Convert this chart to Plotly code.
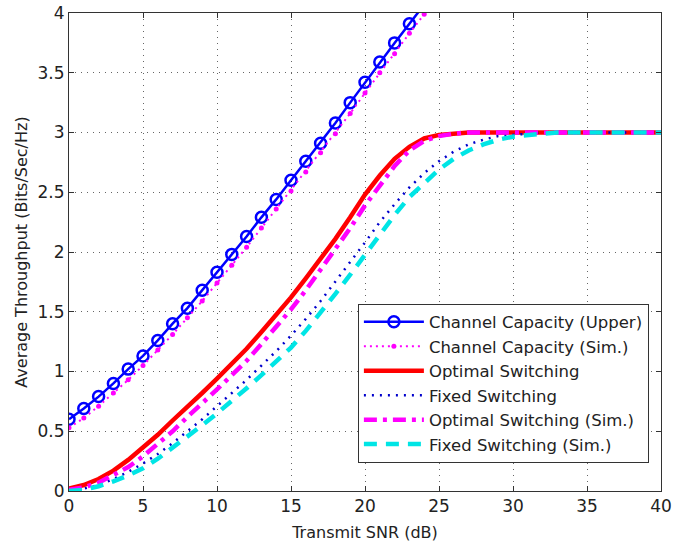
import plotly.graph_objects as go

snr_cap = list(range(0, 25))
cap_upper = [0.60, 0.69, 0.79, 0.90, 1.02, 1.13, 1.26, 1.40, 1.53, 1.68, 1.83, 1.98, 2.13,
             2.29, 2.44, 2.60, 2.76, 2.91, 3.08, 3.25, 3.42, 3.59, 3.75, 3.91, 4.07]
snr_cap_sim = list(range(0, 26))
cap_sim = [0.53, 0.61, 0.71, 0.82, 0.93, 1.05, 1.18, 1.31, 1.45, 1.59, 1.74, 1.89, 2.04,
           2.20, 2.36, 2.51, 2.67, 2.83, 2.99, 3.16, 3.33, 3.50, 3.66, 3.83, 3.99, 4.15]

snr = list(range(0, 41))
opt_sw = [0.02, 0.05, 0.10, 0.17, 0.26, 0.36, 0.47, 0.59, 0.70, 0.82, 0.94, 1.06, 1.19, 1.33,
          1.47, 1.62, 1.78, 1.94, 2.11, 2.29, 2.48, 2.64, 2.78, 2.88, 2.95, 2.98, 2.99] + [3.0] * 14
fixed_sw = [0.01, 0.02, 0.05, 0.10, 0.16, 0.23, 0.31, 0.40, 0.50, 0.60, 0.71, 0.82, 0.93, 1.05,
            1.17, 1.30, 1.44, 1.59, 1.75, 1.91, 2.08, 2.25, 2.40, 2.54, 2.66, 2.76, 2.84, 2.90,
            2.94, 2.97, 2.98, 2.99] + [3.0] * 9
opt_sim = [0.01, 0.03, 0.07, 0.13, 0.20, 0.29, 0.39, 0.50, 0.62, 0.73, 0.85, 0.97, 1.09, 1.23,
           1.37, 1.52, 1.68, 1.85, 2.02, 2.20, 2.39, 2.56, 2.72, 2.85, 2.93, 2.97, 2.99] + [3.0] * 14
fixed_sim = [0.0, 0.01, 0.04, 0.08, 0.13, 0.19, 0.27, 0.36, 0.45, 0.55, 0.65, 0.75, 0.86, 0.97,
             1.08, 1.20, 1.34, 1.49, 1.65, 1.81, 1.98, 2.15, 2.31, 2.46, 2.58, 2.69, 2.78, 2.85,
             2.90, 2.94, 2.965, 2.98, 2.99] + [3.0] * 8

x_ticks = [0, 5, 10, 15, 20, 25, 30, 35, 40]
y_ticks = [0, 0.5, 1, 1.5, 2, 2.5, 3, 3.5, 4]
y_tick_text = ["0", "0.5", "1", "1.5", "2", "2.5", "3", "3.5", "4"]

FONT = "DejaVu Sans, Arial, sans-serif"

fig = go.Figure()
fig.add_trace(go.Scatter(
    x=snr_cap, y=cap_upper, mode="lines+markers", name="Channel Capacity (Upper)",
    line=dict(color="#0000ff", width=2.5),
    marker=dict(symbol="circle-open", size=11, color="#0000ff", line=dict(width=2.5, color="#0000ff")),
))
fig.add_trace(go.Scatter(
    x=snr_cap_sim, y=cap_sim, mode="lines+markers", name="Channel Capacity (Sim.)",
    line=dict(color="#ff00ff", width=2, dash="2px,4px"),
    marker=dict(symbol="circle", size=5, color="#ff00ff"),
))
fig.add_trace(go.Scatter(
    x=snr, y=opt_sw, mode="lines", name="Optimal Switching",
    line=dict(color="#ff0000", width=4.5),
))
fig.add_trace(go.Scatter(
    x=snr, y=fixed_sw, mode="lines", name="Fixed Switching",
    line=dict(color="#0000cc", width=2.5, dash="2px,6px"),
))
fig.add_trace(go.Scatter(
    x=snr, y=opt_sim, mode="lines", name="Optimal Switching (Sim.)",
    line=dict(color="#ff00ff", width=4.5, dash="13px,6px,4px,6px"),
))
fig.add_trace(go.Scatter(
    x=snr, y=fixed_sim, mode="lines", name="Fixed Switching (Sim.)",
    line=dict(color="#00e5e5", width=4.5, dash="13px,9px"),
))

axis_common = dict(
    showline=True, linecolor="#333", linewidth=1, mirror="ticks",
    ticks="inside", ticklen=5, tickcolor="#333",
    showgrid=True, gridcolor="#666", gridwidth=1, griddash="1px,5px",
    zeroline=False, automargin=False,
    tickfont=dict(family=FONT, size=17, color="#222"),
)

fig.update_xaxes(
    range=[0, 40], tickvals=x_ticks,
    title=dict(text="Transmit SNR (dB)", font=dict(family=FONT, size=16, color="#222"), standoff=11),
    **axis_common,
)
fig.update_yaxes(
    range=[0, 4], tickvals=y_ticks, ticktext=y_tick_text,
    title=dict(text="Average Throughput (Bits/Sec/Hz)", font=dict(family=FONT, size=16, color="#222"), standoff=5),
    **axis_common,
)

fig.update_layout(
    width=686, height=548,
    margin=dict(l=69, r=25, t=13, b=57),
    plot_bgcolor="white", paper_bgcolor="white",
    font=dict(family=FONT, color="#222"),
    legend=dict(
        x=0.488, y=0.392, xanchor="left", yanchor="top",
        bgcolor="white", bordercolor="#333", borderwidth=1,
        font=dict(family=FONT, size=16.5, color="#222"),
        itemwidth=60, tracegroupgap=0,
    ),
    showlegend=True,
)

fig.write_html("out.html")
